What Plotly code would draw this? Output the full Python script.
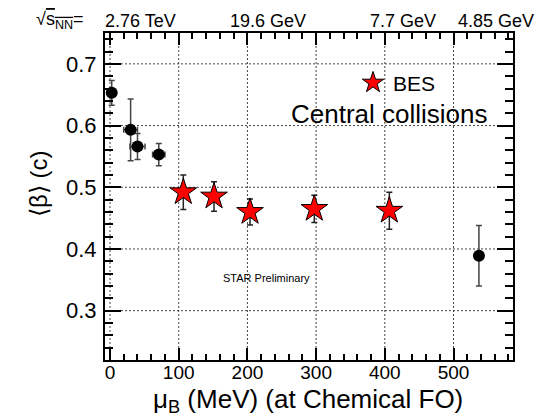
import plotly.graph_objects as go

# Data
lhc_rhic_mu = [2.5, 30, 40, 71, 537]
lhc_rhic_beta = [0.653, 0.593, 0.566, 0.553, 0.389]
lhc_rhic_err = [0.020, 0.050, 0.021, 0.018, 0.049]
lhc_rhic_xerr = [3, 10, 11, 9, 0]

bes_mu = [106.7, 151.4, 203.8, 297.4, 406.6]
bes_beta = [0.492, 0.485, 0.460, 0.465, 0.462]
bes_err = [0.028, 0.024, 0.021, 0.022, 0.030]

x_ticks = [0, 100, 200, 300, 400, 500]
y_ticks = [0.3, 0.4, 0.5, 0.6, 0.7]
x_range = [-7.3, 586.6]
y_range = [0.22, 0.75]

top_labels = ["2.76 TeV", "19.6 GeV", "7.7 GeV", "4.85 GeV"]
top_label_x = [140, 268, 403, 496]  # pixel centres

FONT = "Liberation Sans, Arial, Helvetica, sans-serif"
W, H = 555, 419
L, R, T, B = 105, 42, 33, 59

fig = go.Figure()

# dotted grid lines at the major ticks (drawn as line traces under the data)
for xv in x_ticks:
    fig.add_trace(go.Scatter(x=[xv, xv], y=y_range, mode="lines", showlegend=False,
                             hoverinfo="skip", line=dict(color="#444", width=1, dash="2px,2px")))
for yv in y_ticks:
    fig.add_trace(go.Scatter(x=x_range, y=[yv, yv], mode="lines", showlegend=False,
                             hoverinfo="skip", line=dict(color="#444", width=1, dash="2px,2px")))

fig.add_trace(go.Scatter(
    x=lhc_rhic_mu, y=lhc_rhic_beta, mode="markers", showlegend=False,
    marker=dict(symbol="circle", size=12, color="black"),
    error_y=dict(type="data", array=lhc_rhic_err, color="#444", thickness=1.5, width=3),
    error_x=dict(type="data", array=lhc_rhic_xerr, color="#444", thickness=1.5, width=3),
))

fig.add_trace(go.Scatter(
    x=bes_mu, y=bes_beta, mode="markers", name="BES",
    marker=dict(symbol="star", size=20, color="red", line=dict(color="black", width=1)),
    error_y=dict(type="data", array=bes_err, color="#222", thickness=1.5, width=3),
))

fig.update_xaxes(
    range=x_range, tickmode="array", tickvals=x_ticks,
    showline=True, linecolor="black", linewidth=2, mirror="allticks",
    ticks="inside", ticklen=12, tickwidth=2, tickcolor="black",
    showgrid=False, zeroline=False,
    minor=dict(ticks="inside", dtick=20, tick0=0, ticklen=6, tickwidth=2, tickcolor="black", showgrid=False),
    tickfont=dict(family=FONT, size=19, color="black"),
    ticklabelstandoff=-6,
)
fig.update_yaxes(
    range=y_range, tickmode="array", tickvals=y_ticks,
    showline=True, linecolor="black", linewidth=2, mirror="allticks",
    ticks="inside", ticklen=16, tickwidth=2, tickcolor="black",
    showgrid=False, zeroline=False,
    minor=dict(ticks="inside", dtick=0.02, tick0=0.3, ticklen=8, tickwidth=2, tickcolor="black", showgrid=False),
    tickformat=".1f",
    tickfont=dict(family=FONT, size=22, color="black"),
    ticklabelstandoff=2,
)

annotations = []

def px_x(p):
    return (p - L) / (W - L - R)

def px_y(p):
    return (H - B - p) / (H - T - B)

annotations.append(dict(
    x=px_x(308), y=px_y(400), xref="paper", yref="paper", showarrow=False,
    text="μ<sub>B</sub> (MeV) (at Chemical FO)", font=dict(family=FONT, size=26, color="black"),
    xanchor="center", yanchor="middle",
))
annotations.append(dict(
    x=px_x(38), y=px_y(184), xref="paper", yref="paper", showarrow=False,
    text="⟨β⟩ (c)", textangle=-90, font=dict(family=FONT, size=24, color="black"),
    xanchor="center", yanchor="middle",
))
annotations.append(dict(
    x=px_x(86), y=px_y(20), xref="paper", yref="paper", showarrow=False,
    text="√<span style='text-decoration:overline'>s<sub>NN</sub></span>=",
    font=dict(family=FONT, size=18, color="black"), xanchor="right", yanchor="middle",
))
for lab, xc in zip(top_labels, top_label_x):
    annotations.append(dict(
        x=px_x(xc), y=px_y(21), xref="paper", yref="paper", showarrow=False,
        text=lab, font=dict(family=FONT, size=18, color="black"),
        xanchor="center", yanchor="middle",
    ))
annotations.append(dict(
    x=px_x(490), y=px_y(114), xref="paper", yref="paper", showarrow=False,
    text="Central collisions", font=dict(family=FONT, size=26, color="black"),
    xanchor="right", yanchor="middle",
))
annotations.append(dict(
    x=px_x(266), y=px_y(278), xref="paper", yref="paper", showarrow=False,
    text="STAR Preliminary", font=dict(family=FONT, size=11, color="black"),
    xanchor="center", yanchor="middle",
))

fig.update_layout(
    width=W, height=H,
    margin=dict(l=L, r=R, t=T, b=B, pad=0),
    paper_bgcolor="white", plot_bgcolor="white",
    annotations=annotations,
    legend=dict(
        x=px_x(353), y=px_y(83), xanchor="left", yanchor="middle",
        bgcolor="rgba(0,0,0,0)", borderwidth=0,
        font=dict(family=FONT, size=21, color="black"),
        itemsizing="trace",
    ),
)

fig.write_html("out.html")
